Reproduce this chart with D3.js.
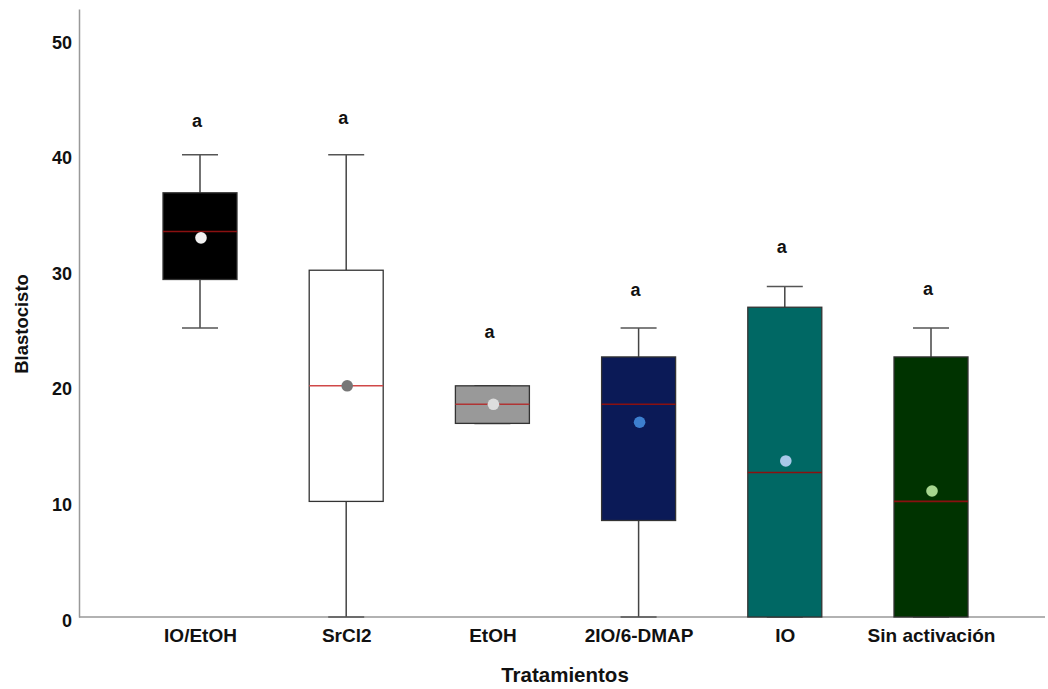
<!DOCTYPE html>
<meta charset="utf-8">
<style>
  body { margin: 0; background: #fff; }
  svg { font-family: 'Liberation Sans', Arial, sans-serif; }
  .axis text { font-size: 18px; font-weight: bold; fill: #111; }
  .axis path { stroke: #999; stroke-width: 1.5; }
  .axis line { display: none; }
</style>
<body>
<div id="chart"></div>
<script src="https://d3js.org/d3.v7.min.js"></script>
<script>
// box plot values
var categories = ["IO/EtOH", "SrCl2", "EtOH", "2IO/6-DMAP", "IO", "Sin activación"];
var whiskerLow = [25, 0, 16.75, 0, 0, 0];
var q1 = [29.2, 10, 16.75, 8.35, 0, 0];
var median = [33.35, 20, 18.4, 18.4, 12.5, 10];
var q3 = [36.7, 30, 20, 22.5, 26.8, 22.5];
var whiskerHigh = [40, 40, 20, 25, 28.6, 25];
var means = [32.8, 20, 18.4, 16.85, 13.5, 10.9];
var letters = ["a", "a", "a", "a", "a", "a"];
var letterPos = [42.9, 43.2, 24.7, 28.3, 32.0, 28.4];
var yTicks = [0, 10, 20, 30, 40, 50];

var boxFill = ["#000000", "#ffffff", "#999999", "#0b1a57", "#006864", "#003300"];
var dotFill = ["#f2f2f2", "#777777", "#dddddd", "#3d7fcf", "#a9c8e9", "#a6d68f"];

var width = 1048, height = 689;

var svg = d3.select("#chart").append("svg")
    .attr("width", width)
    .attr("height", height);

var y = d3.scaleLinear()
    .domain([0, 52.6])
    .range([617, 9]);

var x = d3.scalePoint()
    .domain(categories)
    .range([200, 931]);

var boxW = 74, capW = 36;

// x axis line, full width
svg.append("g")
    .attr("class", "axis")
    .attr("transform", "translate(0," + y(0) + ")")
    .call(d3.axisBottom(x).tickSize(0).tickSizeOuter(0).tickPadding(12))
    .call(function(g) {
        g.select(".domain").attr("d", "M79,0H1045");
        g.selectAll("text").style("font-size", "19px");
    });

var data = categories.map(function(c, i) {
    return {
        cat: c, lo: whiskerLow[i], q1: q1[i], med: median[i], q3: q3[i],
        hi: whiskerHigh[i], mean: means[i], fill: boxFill[i], dot: dotFill[i],
        letter: letters[i], lp: letterPos[i]
    };
});

var g = svg.selectAll(".box")
    .data(data)
    .enter().append("g")
    .attr("class", "box")
    .attr("transform", function(d) { return "translate(" + x(d.cat) + ",0)"; });

// whiskers
g.append("line")
    .attr("x1", 0).attr("x2", 0)
    .attr("y1", function(d) { return y(d.q3); })
    .attr("y2", function(d) { return y(d.hi); })
    .attr("stroke", "#444").attr("stroke-width", 1.5);
g.append("line")
    .attr("x1", 0).attr("x2", 0)
    .attr("y1", function(d) { return y(d.q1); })
    .attr("y2", function(d) { return y(d.lo); })
    .attr("stroke", "#444").attr("stroke-width", 1.5);
g.append("line")
    .attr("x1", -capW / 2).attr("x2", capW / 2)
    .attr("y1", function(d) { return y(d.hi); })
    .attr("y2", function(d) { return y(d.hi); })
    .attr("stroke", "#555").attr("stroke-width", 1.5);
g.append("line")
    .attr("x1", -capW / 2).attr("x2", capW / 2)
    .attr("y1", function(d) { return y(d.lo); })
    .attr("y2", function(d) { return y(d.lo); })
    .attr("stroke", "#555").attr("stroke-width", 1.5);

// boxes
g.append("rect")
    .attr("x", -boxW / 2)
    .attr("width", boxW)
    .attr("y", function(d) { return y(d.q3); })
    .attr("height", function(d) { return y(d.q1) - y(d.q3); })
    .attr("fill", function(d) { return d.fill; })
    .attr("stroke", "#333").attr("stroke-width", 1.3);

// median
g.append("line")
    .attr("x1", -boxW / 2).attr("x2", boxW / 2)
    .attr("y1", function(d) { return y(d.med); })
    .attr("y2", function(d) { return y(d.med); })
    .attr("stroke", function(d, i) { return i === 1 ? "#d04848" : (i === 2 ? "#b03434" : "#8a1010"); })
    .attr("stroke-width", 1.6);

// mean dots
g.append("circle")
    .attr("cx", 1)
    .attr("cy", function(d) { return y(d.mean); })
    .attr("r", 5.8)
    .attr("fill", function(d) { return d.dot; });

// significance letters
g.append("text")
    .attr("x", -3)
    .attr("y", function(d) { return y(d.lp); })
    .attr("dy", "0.35em")
    .attr("text-anchor", "middle")
    .style("font-size", "18px")
    .style("font-weight", "bold")
    .attr("fill", "#111")
    .text(function(d) { return d.letter; });

// y axis
svg.append("g")
    .attr("class", "axis")
    .attr("transform", "translate(79,0)")
    .call(d3.axisLeft(y).tickValues(yTicks).tickSize(0).tickSizeOuter(0).tickPadding(7))
    .call(function(g) { g.selectAll("text").attr("dy", "0.5em"); });

// axis titles
svg.append("text")
    .attr("transform", "translate(28,324) rotate(-90)")
    .attr("text-anchor", "middle")
    .style("font-size", "18.5px")
    .style("font-weight", "bold")
    .attr("fill", "#111")
    .text("Blastocisto");

svg.append("text")
    .attr("x", 565)
    .attr("y", 682)
    .attr("text-anchor", "middle")
    .style("font-size", "20.5px")
    .style("font-weight", "bold")
    .attr("fill", "#111")
    .text("Tratamientos");
</script>
</body>
